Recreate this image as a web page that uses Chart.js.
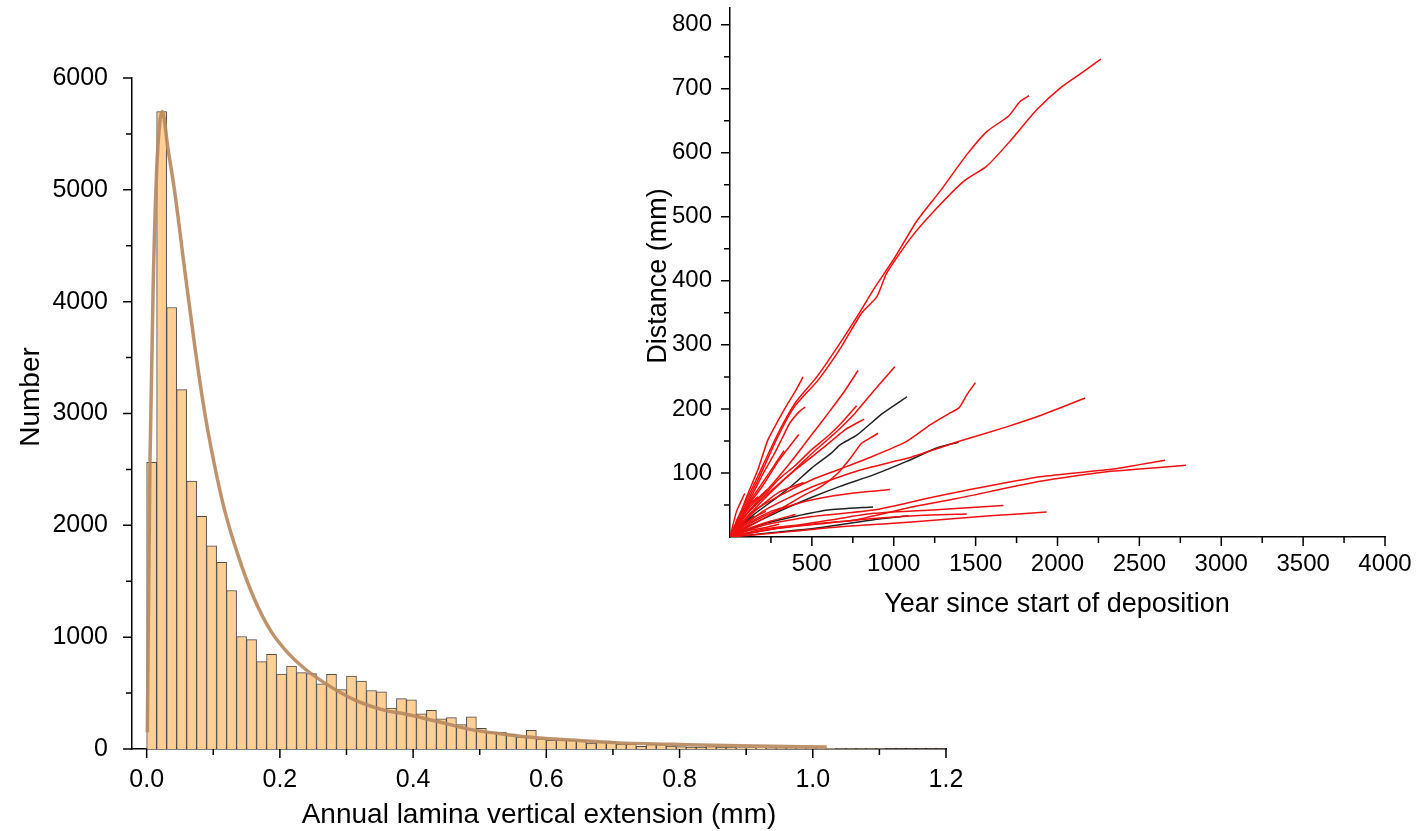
<!DOCTYPE html>
<html>
<head>
<meta charset="utf-8">
<script src="https://cdn.jsdelivr.net/npm/chart.js@4.4.1/dist/chart.umd.min.js"></script>
<style>
  html, body { margin: 0; padding: 0; background: #fff; }
  #wrap { position: relative; width: 1423px; height: 831px; }
  #wrap canvas { position: absolute; left: 0; top: 0; }
</style>
</head>
<body>
<div id="wrap">
  <canvas id="histChart" width="1423" height="831"></canvas>
  <canvas id="insetChart" width="1423" height="831"></canvas>
</div>
<script>
// ---- histogram (main panel) ----
const binWidth = 0.015;
const binCounts = [
  2563, 5700, 3948, 3214, 2395, 2080, 1816, 1669, 1417, 1006,
  978, 782, 846, 671, 742, 683, 675, 583, 667, 531,
  651, 607, 523, 511, 367, 451, 439, 315, 346, 269,
  281, 218, 287, 185, 152, 152, 134, 107, 167, 90,
  78, 78, 78, 75, 54, 63, 63, 45, 42, 24,
  39, 39, 27, 21, 18, 18, 21, 15, 18, 12,
  12, 10, 9, 8, 8, 7, 6, 6, 5, 4,
  4, 3, 3, 3, 2, 2, 2, 2, 1, 1
];
const binCenters = binCounts.map((_, i) => +(i * binWidth + binWidth / 2).toFixed(4));

// fitted curve
const fitX = [0.001, 0.005, 0.01, 0.015, 0.02, 0.0234, 0.032, 0.0424, 0.057, 0.072, 0.087, 0.102,
  0.117, 0.137, 0.162, 0.187, 0.212, 0.237, 0.27, 0.312, 0.362, 0.381, 0.435, 0.488, 0.542,
  0.595, 0.649, 0.702, 0.809, 0.916, 1.021];
const fitY = [150, 2575, 4190, 5170, 5620, 5700, 5370, 4970, 4290, 3613, 3014, 2535,
  2136, 1736, 1337, 1050, 860, 720, 580, 439, 339, 322, 248, 173, 128,
  96, 75, 57, 39, 27, 18];

const histXTicks = [0, 0.2, 0.4, 0.6, 0.8, 1.0, 1.2];
const histXMinor = [0.1, 0.3, 0.5, 0.7, 0.9, 1.1];
const histYTicks = [0, 1000, 2000, 3000, 4000, 5000, 6000];
const histYMinor = [500, 1500, 2500, 3500, 4500, 5500];

// ---- inset: distance vs year, [year, distance mm] ----
const track01 = [[0,0],[49,27],[171,89],[293,157],[395,204],[538,245],[680,297],[802,349],[896,375],[957,412],[1110,469],[1242,508],[1425,555],[1568,579],[1710,618],[1873,667],[2016,701],[2150,725],[2265,746]];
const track02 = [[0,0],[45,28],[165,92],[290,160],[400,210],[530,250],[670,302],[795,352],[875,386],[998,433],[1140,493],[1283,540],[1446,597],[1568,633],[1700,657],[1771,680],[1826,689]];
const track03 = [[0,0],[60,35],[110,68],[170,105],[232,152],[290,180],[354,209],[400,228],[446,250]];
const track04 = [[0,0],[80,30],[191,63],[300,95],[395,125],[500,160],[599,193],[700,228],[782,260]];
const track05 = [[0,0],[100,35],[232,68],[395,105],[520,135],[640,162],[762,193],[884,230],[1006,266]];
const track06 = [[0,0],[120,30],[293,63],[395,84],[500,108],[619,131],[672,144],[774,159],[932,193],[1081,219]];
const track07 = [[0,0],[130,38],[293,63],[497,89],[660,105],[863,125],[1070,148],[1222,175],[1332,192],[1400,202],[1446,222],[1499,241]];
const track08 = [[0,0],[50,28],[130,63],[200,98],[273,131],[320,155],[365,178],[420,195],[460,203]];
const track09 = [[0,0],[100,35],[200,62],[293,89],[400,112],[497,136],[600,158],[680,178],[773,205]];
const track10 = [[0,0],[100,30],[250,70],[400,105],[578,141],[700,167],[819,184]];
const track11 = [[0,0],[191,27],[350,50],[450,65],[558,79],[660,100],[741,125],[802,146],[860,155],[904,162]];
const track12 = [[0,0],[100,15],[300,40],[500,62],[672,79],[876,97],[1079,118],[1262,139],[1397,148]];
const track13 = [[0,0],[200,40],[500,78],[800,105],[1110,125],[1395,149],[1690,172],[1900,190],[2169,217]];
const track14 = [[0,0],[150,25],[293,42],[450,55],[599,63],[800,70],[977,74]];
const track15 = [[0,0],[200,18],[500,32],[876,42],[1200,60],[1446,73],[1894,94],[2341,106],[2500,113],[2657,120]];
const track16 = [[0,0],[250,12],[500,20],[774,27],[1079,45],[1385,60],[1894,87],[2301,102],[2500,106],[2784,112]];
const track17 = [[0,0],[200,12],[450,20],[672,29],[876,37],[1283,43],[1670,49]];
const track18 = [[0,0],[300,14],[600,22],[876,29],[1181,34],[1446,36]];
const track19 = [[0,0],[350,8],[672,16],[977,21],[1283,27],[1588,33],[1934,39]];
const track20 = [[0,0],[300,8],[500,13],[672,19],[876,27],[1090,33]];
const track21 = [[0,0],[200,20],[395,32],[599,42],[874,47]];
const track22 = [[0,0],[60,25],[120,50],[171,63]];
const track23 = [[0,0],[100,20],[250,40],[350,48]];
const track24 = [[0,0],[150,40],[300,70],[450,85]];
const track25 = [[0,0],[80,8],[200,14],[300,20]];
const track26 = [[0,0],[100,45],[200,80],[300,120],[420,160]];
const track27 = [[0,0],[40,40],[90,68]];
const track28 = [[0,0],[70,30],[150,55],[230,75]];
const track29 = [[0,0],[120,55],[240,100],[330,135]];
const track30 = [[0,0],[100,12],[250,25],[400,35]];
const track31 = [[0,0],[80,20],[150,33]];
const track32 = [[0,0],[60,15],[140,30],[220,40]];

const redTracks = [track01, track02, track03, track04, track05, track07, track08, track09, track10,
  track11, track13, track14, track15, track16, track17, track18, track19, track22, track23,
  track24, track25, track26, track27, track28, track29, track30, track32];
const blackTracks = [track06, track12, track20, track21, track31];

const insetXTicks = [500, 1000, 1500, 2000, 2500, 3000, 3500, 4000];
const insetXMinor = [250, 750, 1250, 1750, 2250, 2750, 3250, 3750];
const insetYTicks = [100, 200, 300, 400, 500, 600, 700, 800];
const insetYMinor = [50, 150, 250, 350, 450, 550, 650, 750];

Chart.defaults.font.family = '"Liberation Sans", Arial, sans-serif';
Chart.defaults.color = '#000';
Chart.defaults.animation = false;

// draws tick marks (major/minor) and axis titles
const axisDecor = {
  id: 'axisDecor',
  afterDraw(chart, args, o) {
    const ctx = chart.ctx;
    const xs = chart.scales.x, ys = chart.scales.y;
    const a = chart.chartArea;
    ctx.save();
    ctx.strokeStyle = '#000';
    ctx.lineWidth = 1.5;
    ctx.beginPath();
    const vt = (v, len) => { const px = xs.getPixelForValue(v); ctx.moveTo(px, a.bottom); ctx.lineTo(px, a.bottom + len); };
    const ht = (v, len) => { const py = ys.getPixelForValue(v); ctx.moveTo(a.left, py); ctx.lineTo(a.left - len, py); };
    o.xMajor.forEach(v => vt(v, 9));
    o.xMinor.forEach(v => vt(v, 6));
    o.yMajor.forEach(v => ht(v, 9));
    o.yMinor.forEach(v => ht(v, 6));
    ctx.stroke();

    ctx.fillStyle = '#000';
    ctx.font = o.titleSize + 'px "Liberation Sans", Arial, sans-serif';
    ctx.textAlign = 'center';
    ctx.textBaseline = 'middle';
    ctx.fillText(o.xTitle, o.xTitlePos[0], o.xTitlePos[1]);
    ctx.translate(o.yTitlePos[0], o.yTitlePos[1]);
    ctx.rotate(-Math.PI / 2);
    ctx.fillText(o.yTitle, 0, 0);
    ctx.restore();
  }
};

// ---- main histogram ----
new Chart(document.getElementById('histChart'), {
  data: {
    datasets: [
      {
        type: 'line',
        label: 'fit',
        data: fitX.map((x, i) => ({ x, y: fitY[i] })),
        borderColor: 'rgba(184, 138, 96, 0.92)',
        borderWidth: 3.5,
        pointRadius: 0,
        cubicInterpolationMode: 'monotone',
        order: 0
      },
      {
        type: 'bar',
        label: 'count',
        data: binCenters.map((x, i) => ({ x, y: binCounts[i] })),
        backgroundColor: '#FFCF94',
        borderColor: '#4a4a4a',
        borderWidth: 1,
        barPercentage: 1,
        categoryPercentage: 1,
        grouped: false,
        order: 1
      }
    ]
  },
  options: {
    responsive: false,
    layout: { padding: { left: 0, top: 78, right: 477, bottom: 0 } },
    plugins: {
      legend: { display: false },
      tooltip: { enabled: false },
      axisDecor: {
        xMajor: histXTicks, xMinor: histXMinor, yMajor: histYTicks, yMinor: histYMinor,
        xTitle: 'Annual lamina vertical extension (mm)', yTitle: 'Number',
        xTitlePos: [539, 815], yTitlePos: [31, 397], titleSize: 28
      }
    },
    scales: {
      x: {
        type: 'linear', min: -0.022, max: 1.2, offset: false,
        afterBuildTicks: s => { s.ticks = histXTicks.map(v => ({ value: v })); },
        afterFit: s => { s.height = 82; s.paddingLeft = 0; s.paddingRight = 0; },
        grid: { display: false },
        border: { display: true, color: '#000', width: 1.5 },
        ticks: { padding: 8, font: { size: 25 }, callback: v => v.toFixed(1) }
      },
      y: {
        min: 0, max: 6000,
        afterBuildTicks: s => { s.ticks = histYTicks.map(v => ({ value: v })); },
        afterFit: s => { s.width = 132; s.paddingTop = 0; s.paddingBottom = 0; },
        grid: { display: false },
        border: { display: true, color: '#000', width: 1.5 },
        ticks: { padding: 16, font: { size: 25 }, callback: v => String(v) }
      }
    }
  },
  plugins: [axisDecor]
});

// ---- inset ----
const insetSets = [
  ...redTracks.map(t => ({ data: t.map(p => ({ x: p[0], y: p[1] })), borderColor: '#f01010' })),
  ...blackTracks.map(t => ({ data: t.map(p => ({ x: p[0], y: p[1] })), borderColor: '#222222' }))
].map(d => Object.assign(d, { showLine: true, borderWidth: 1.5, pointRadius: 0, fill: false, tension: 0.2 }));

new Chart(document.getElementById('insetChart'), {
  type: 'scatter',
  data: { datasets: insetSets },
  options: {
    responsive: false,
    layout: { padding: { left: 0, top: 8, right: 38, bottom: 0 } },
    plugins: {
      legend: { display: false },
      tooltip: { enabled: false },
      axisDecor: {
        xMajor: insetXTicks, xMinor: insetXMinor, yMajor: insetYTicks, yMinor: insetYMinor,
        xTitle: 'Year since start of deposition', yTitle: 'Distance (mm)',
        xTitlePos: [1057, 605], yTitlePos: [659, 276], titleSize: 27
      }
    },
    scales: {
      x: {
        type: 'linear', min: 0, max: 4000,
        afterBuildTicks: s => { s.ticks = insetXTicks.map(v => ({ value: v })); },
        afterFit: s => { s.height = 294; s.paddingLeft = 0; s.paddingRight = 0; },
        grid: { display: false },
        border: { display: true, color: '#000', width: 1.5 },
        ticks: { padding: 5, font: { size: 24 }, callback: v => String(v) }
      },
      y: {
        type: 'linear', min: 0, max: 826,
        afterBuildTicks: s => { s.ticks = insetYTicks.map(v => ({ value: v })); },
        afterFit: s => { s.width = 730; s.paddingTop = 0; s.paddingBottom = 0; },
        grid: { display: false },
        border: { display: true, color: '#000', width: 1.5 },
        ticks: { padding: 10, font: { size: 24 }, callback: v => String(v) }
      }
    }
  },
  plugins: [axisDecor]
});
</script>
</body>
</html>
